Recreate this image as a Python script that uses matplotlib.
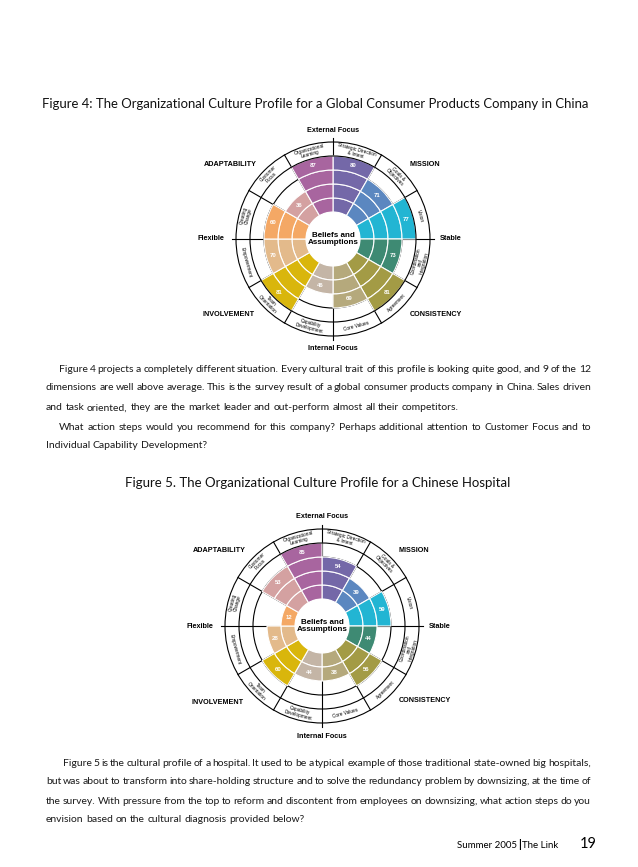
import numpy as np
import matplotlib
matplotlib.use("Agg")
import matplotlib.pyplot as plt
from matplotlib.patches import Wedge, Circle

# dimensions clockwise from 12 o'clock
dimensions = ["Strategic Direction\n& Intent", "Goals &\nObjectives", "Vision",
              "Coordination\nand\nIntegration", "Agreement", "Core Values",
              "Capability\nDevelopment", "Team\nOrientation", "Empowerment",
              "Creating\nChange", "Customer\nFocus", "Organizational\nLearning"]
seg_colors = ["#7468a8", "#5b87c0", "#22b5d3", "#3e8a73", "#a39b45", "#b5a97c",
              "#c4b5a6", "#d9b60c", "#e3ba8b", "#f4a865", "#d4a1a1", "#a8659f"]
fig4_scores = [80, 71, 77, 73, 81, 69, 46, 81, 70, 60, 36, 87]
fig5_scores = [54, 39, 59, 44, 56, 38, 44, 60, 28, 12, 53, 85]

axis_labels = ["External Focus", "Internal Focus", "Flexible", "Stable"]
trait_labels = ["ADAPTABILITY", "MISSION", "INVOLVEMENT", "CONSISTENCY"]

title4 = "Figure 4: The Organizational Culture Profile for a Global Consumer Products Company in China"
title5 = "Figure 5. The Organizational Culture Profile for a Chinese Hospital"

para1 = ["Figure 4 projects a completely different situation. Every cultural trait of this profile is looking quite good, and 9 of the 12",
         "dimensions are well above average. This is the survey result of a global consumer products company in China. Sales driven",
         "and task oriented, they are the market leader and out-perform almost all their competitors.",
         "What action steps would you recommend for this company? Perhaps additional attention to Customer Focus and to",
         "Individual Capability Development?"]
para2 = ["Figure 5 is the cultural profile of a hospital. It used to be a typical example of those traditional state-owned big hospitals,",
         "but was about to transform into share-holding structure and to solve the redundancy problem by downsizing, at the time of",
         "the survey. With pressure from the top to reform and discontent from employees on downsizing, what action steps do you",
         "envision based on the cultural diagnosis provided below?"]

W, H = 638, 867
chart_font = "Liberation Sans"
body_font = "Lato"

fig = plt.figure(figsize=(W / 100, H / 100), dpi=100)
ax = fig.add_axes([0, 0, 1, 1])
ax.set_xlim(0, W)
ax.set_ylim(H, 0)
ax.axis("off")
renderer = fig.canvas.get_renderer()


def draw_profile(cx, cy, scores):
    r0, ring, r_lab = 27, 14, 97
    # guide circle under the fills, outer circles on top
    ax.add_patch(Circle((cx, cy), r0 + 3 * ring, fill=False, ec="black", lw=0.8, zorder=1))
    for r in (r0 + 4 * ring, r_lab):
        ax.add_patch(Circle((cx, cy), r, fill=False, ec="black", lw=0.8, zorder=4))
    for k in range(12):
        a = np.deg2rad(90 - 30 * k)
        r_end = 101 if k % 3 == 0 else r_lab
        ax.plot([cx + r0 * np.cos(a), cx + r_end * np.cos(a)],
                [cy - r0 * np.sin(a), cy - r_end * np.sin(a)], color="black", lw=0.8, zorder=1)

    for i, (score, col, name) in enumerate(zip(scores, seg_colors, dimensions)):
        a1, a2 = 90 - 30 * (i + 1), 90 - 30 * i
        n = int(np.ceil(score / 25))
        for q in range(n):
            ax.add_patch(Wedge((cx, cy), r0 + ring * (q + 1), -a2, -a1, width=ring,
                               fc=col, ec="white", lw=0.8, zorder=2))
        mid = ((a1 + a2) / 2 + 180) % 360 - 180
        am = np.deg2rad(mid)
        rt = r0 + ring * (n - 0.5)
        ax.text(cx + rt * np.cos(am), cy - rt * np.sin(am), str(score), color="white",
                fontsize=4.3, weight="bold", family=chart_font, ha="center", va="center", zorder=5)
        rl = 90
        rot = mid - 90 if mid > 0 else mid + 90
        ls = 0.8 if name.count("\n") > 1 else 0.95
        ax.text(cx + rl * np.cos(am), cy - rl * np.sin(am), name, rotation=rot,
                rotation_mode="anchor", ha="center", va="center", fontsize=3.45,
                linespacing=ls, family=chart_font, zorder=5)

    ax.add_patch(Circle((cx, cy), r0, fc="white", ec="none", zorder=3))
    ax.text(cx, cy, "Beliefs and\nAssumptions", ha="center", va="center", fontsize=5.8,
            weight="bold", family=chart_font, linespacing=1.15, zorder=5)

    offs = [(0, -109), (0, 110), (-122, 0), (118, 0)]
    for lab, (dx, dy) in zip(axis_labels, offs):
        ax.text(cx + dx, cy + dy, lab, ha="center", va="center", fontsize=5.2,
                weight="bold", family=chart_font)
    offs = [(-103, -75), (92, -75), (-104, 76), (103, 75)]
    for lab, (dx, dy) in zip(trait_labels, offs):
        ax.text(cx + dx, cy + dy, lab, ha="center", va="center", fontsize=5.2,
                weight="bold", family=chart_font)


def put_line(text, x0, x1, y, size, justify=True):
    words = text.split()
    objs = [ax.text(0, y, w, fontsize=size, family=body_font, va="center", ha="left", color="#1a1a1a")
            for w in words]
    widths = [o.get_window_extent(renderer).width for o in objs]
    gap = size * 100 / 72 * 0.26
    if justify and len(words) > 1:
        gap = (x1 - x0 - sum(widths)) / (len(words) - 1)
    x = x0
    for o, w in zip(objs, widths):
        o.set_x(x)
        x += w + gap


def put_paragraph(lines, ys, indent_x, last_flags):
    for k, (line, y) in enumerate(zip(lines, ys)):
        x0 = indent_x if (k == 0 or last_flags[k - 1]) else 46
        put_line(line, x0, 591, y, 7.5, justify=not last_flags[k])


ax.text(42, 104, title4, fontsize=9.45, family=body_font, va="center", ha="left", color="#111111")
draw_profile(333, 239, fig4_scores)
put_paragraph(para1, [369, 388, 408, 427, 446], 59, [False, False, True, False, True])

ax.text(318, 483, title5, fontsize=9.5, family=body_font, va="center", ha="center", color="#111111")
draw_profile(322, 626, fig5_scores)
put_paragraph(para2, [763, 782, 801, 820], 63, [False, False, False, True])

ax.text(517, 845, "Summer 2005", fontsize=7.0, family=body_font, va="center", ha="right")
ax.text(519.5, 845, "|", fontsize=8.0, weight="bold", family=body_font, va="center", ha="center")
ax.text(522, 845, "The Link", fontsize=7.0, family=body_font, va="center", ha="left")
ax.text(597, 844, "19", fontsize=10.5, family=body_font, va="center", ha="right")

fig.savefig("out.png", dpi=100)
